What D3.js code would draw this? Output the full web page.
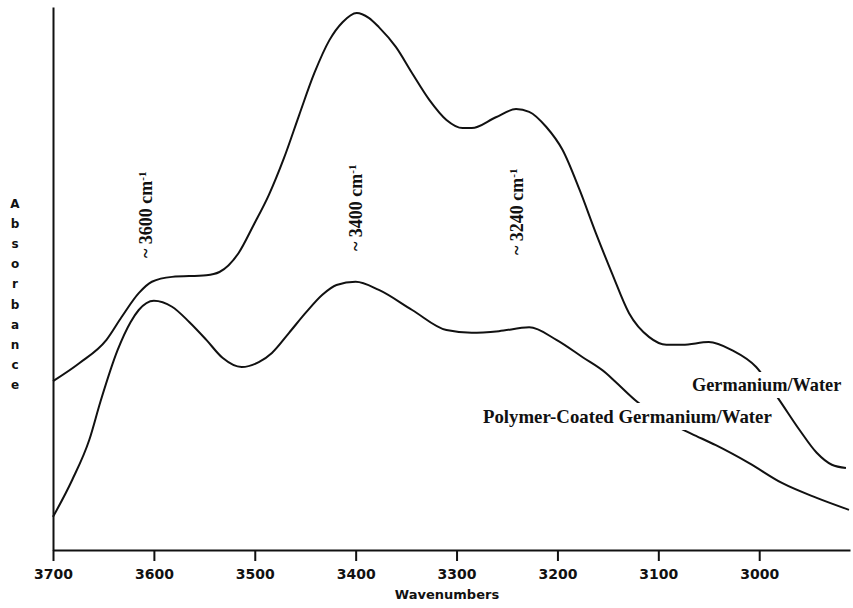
<!DOCTYPE html>
<html>
<head>
<meta charset="utf-8">
<script src="https://cdn.jsdelivr.net/npm/d3@7"></script>
<style>
  html, body { margin: 0; padding: 0; background: #fff; }
  svg { display: block; }
</style>
</head>
<body>
<svg id="chart" width="853" height="608"></svg>
<script>
// IR absorbance spectra of interfacial water, OH stretching region
const wavenumberTicks = [3700, 3600, 3500, 3400, 3300, 3200, 3100, 3000];

// Germanium/Water spectrum: [wavenumber (cm-1), absorbance (arb. units)]
const germaniumWater = [
  [3700, 31.1], [3674, 34.4], [3647, 38.7], [3632, 42.9], [3615, 47.3],
  [3602, 49.4], [3582, 50.3], [3548, 50.6], [3535, 51.2], [3516, 54.7],
  [3501, 59.9], [3486, 65.4], [3471, 72.2], [3456, 80.1], [3441, 87.8],
  [3426, 93.9], [3413, 97.2], [3399, 98.9], [3387, 98.0], [3377, 96.3],
  [3360, 92.6], [3344, 87.8], [3327, 82.9], [3310, 79.2], [3294, 77.7],
  [3285, 77.7], [3261, 79.7], [3241, 81.2], [3228, 80.7], [3211, 77.9],
  [3195, 73.7], [3178, 66.3], [3162, 58.4], [3146, 51.0], [3129, 43.6],
  [3109, 39.2], [3092, 37.8], [3076, 37.8], [3050, 38.3], [3027, 36.8],
  [3003, 33.7], [2980, 27.6], [2960, 22.1], [2943, 17.9], [2928, 15.7],
  [2914, 15.1]
];

// Polymer-coated Germanium/Water spectrum
const polymerCoated = [
  [3700, 6.1], [3681, 12.9], [3664, 20.3], [3653, 27.3], [3636, 36.8],
  [3623, 42.0], [3615, 44.2], [3600, 45.9], [3582, 44.8], [3565, 42.0],
  [3548, 38.7], [3532, 35.4], [3513, 33.7], [3496, 34.6], [3483, 36.3],
  [3466, 40.0], [3449, 43.8], [3433, 47.0], [3419, 48.8], [3400, 49.4],
  [3377, 47.9], [3344, 44.2], [3310, 40.5], [3285, 40.0], [3258, 40.3],
  [3228, 41.0], [3201, 38.7], [3175, 35.5], [3152, 32.6], [3142, 30.9],
  [3121, 27.3], [3094, 23.9], [3067, 21.4], [3043, 19.3], [3010, 16.0],
  [2977, 12.3], [2943, 9.6], [2911, 7.4]
];

// Band assignments marked above the spectra
const peakBands = [3600, 3400, 3240];
const peakLabels = ["~ 3600 cm", "~ 3400 cm", "~ 3240 cm"];

const seriesNames = ["Germanium/Water", "Polymer-Coated Germanium/Water"];
const yTitle = "Absorbance";
const xTitle = "Wavenumbers";

// ---- layout ----
const svg = d3.select("#chart");
const plotLeft = 53, plotRight = 850, plotTop = 7, plotBottom = 550;

const x = d3.scaleLinear().domain([3700, 2910]).range([plotLeft, plotRight]);
const y = d3.scaleLinear().domain([0, 100]).range([plotBottom, plotTop]);

const line = d3.line()
  .x(d => x(d[0]))
  .y(d => y(d[1]))
  .curve(d3.curveMonotoneX);

const serif = "'Liberation Serif', 'Times New Roman', serif";
const sans = "'DejaVu Sans', sans-serif";

// spectra
svg.append("g")
  .selectAll("path")
  .data([germaniumWater, polymerCoated])
  .join("path")
  .attr("d", line)
  .attr("fill", "none")
  .attr("stroke", "#111")
  .attr("stroke-width", 2)
  .attr("stroke-linejoin", "round");

// x axis
const xAxis = svg.append("g")
  .attr("transform", `translate(0,${plotBottom})`)
  .call(d3.axisBottom(x)
    .tickValues(wavenumberTicks)
    .tickFormat(d3.format("d"))
    .tickSize(11)
    .tickSizeOuter(0)
    .tickPadding(8));
xAxis.select(".domain").attr("stroke", "#111").attr("stroke-width", 2);
xAxis.selectAll(".tick line").attr("stroke", "#111").attr("stroke-width", 2);
xAxis.selectAll(".tick text")
  .attr("fill", "#111")
  .style("font-family", sans)
  .style("font-weight", "bold")
  .style("font-size", "14px");

// y axis (no tick marks, bare spine)
const yAxis = svg.append("g")
  .attr("transform", `translate(${plotLeft},0)`)
  .call(d3.axisLeft(y).tickValues([]).tickSizeOuter(0));
yAxis.select(".domain").attr("stroke", "#111").attr("stroke-width", 2);

// axis titles
svg.append("text")
  .attr("x", 447)
  .attr("y", 599)
  .attr("text-anchor", "middle")
  .attr("fill", "#111")
  .style("font-family", sans)
  .style("font-weight", "bold")
  .style("font-size", "13px")
  .text(xTitle);

svg.append("g")
  .selectAll("text")
  .data(yTitle.split(""))
  .join("text")
  .attr("x", 15)
  .attr("y", (d, i) => 208 + i * 20.1)
  .attr("text-anchor", "middle")
  .attr("fill", "#111")
  .style("font-family", sans)
  .style("font-weight", "bold")
  .style("font-size", "12px")
  .text(d => d);

// band labels, written bottom-to-top
const peakShiftX = [-8, 0, 0];
const peakBaseY = [258, 251, 255];
const peaks = svg.append("g")
  .selectAll("text")
  .data(peakBands)
  .join("text")
  .attr("transform", (d, i) => `translate(${x(d) + peakShiftX[i]},${peakBaseY[i]}) rotate(-90)`)
  .attr("dy", "0.35em")
  .attr("fill", "#111")
  .style("font-family", serif)
  .style("font-weight", "bold")
  .style("font-size", "18px");
peaks.append("tspan").text((d, i) => peakLabels[i]);
peaks.append("tspan")
  .attr("baseline-shift", "super")
  .style("font-size", "11px")
  .text("-1");

// series labels, knocked out of the curves
const seriesPos = [[692, 391], [483, 423]];
const seriesSize = ["18.3px", "18.8px"];
const labelG = svg.append("g");
seriesNames.forEach((name, i) => {
  const g = labelG.append("g");
  const bg = g.append("rect").attr("fill", "#fff");
  const t = g.append("text")
    .attr("x", seriesPos[i][0])
    .attr("y", seriesPos[i][1])
    .attr("fill", "#111")
    .style("font-family", serif)
    .style("font-weight", "bold")
    .style("font-size", seriesSize[i])
    .text(name);
  const b = t.node().getBBox();
  bg.attr("x", b.x - 4).attr("y", b.y - 3)
    .attr("width", b.width + 8).attr("height", b.height + 6);
});
</script>
</body>
</html>
